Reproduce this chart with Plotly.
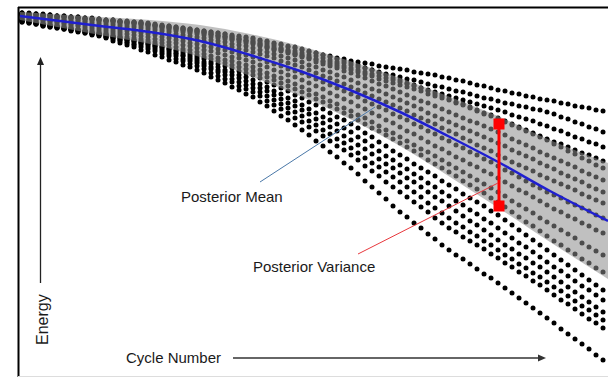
import plotly.graph_objects as go

# Nominal (fresh) energy; each cell is stored as energy fade from it.
E0 = 380

# Sampled cycle numbers shared by every cell
cycles = list(range(0, 582, 7))

# Energy fade per cell at each sampled cycle (cells that age slowest first)
cell_01 = [13, 13, 14, 14, 15, 16, 16, 17, 17, 18, 18, 19, 20, 20, 21, 21, 22, 22, 23,
           24, 25, 26, 27, 28, 29, 30, 31, 32, 33, 34, 36, 37, 38, 39, 41, 42, 44, 45, 47, 48, 50,
           52, 53, 55, 56, 58, 59, 61, 62, 63, 64, 66, 67, 68, 69, 70, 72, 73, 74, 75, 77, 78,
           80, 81, 83, 85, 86, 88, 90, 91, 93, 94, 96, 97, 99, 100, 101, 103, 104, 106, 107, 108, 110, 111]
cell_02 = [13, 14, 14, 15, 15, 16, 16, 17, 17, 18, 19, 19, 20, 20, 21, 22, 22, 23, 24,
           25, 26, 27, 28, 29, 30, 31, 32, 34, 35, 36, 37, 39, 40, 41, 43, 44, 46, 48, 50, 51, 53,
           55, 56, 58, 60, 62, 63, 65, 67, 68, 70, 72, 74, 75, 77, 79, 80, 82, 84, 86, 87, 89,
           91, 92, 94, 96, 98, 99, 101, 103, 104, 106, 107, 109, 110, 112, 114, 117, 119, 122, 124, 127, 129, 132]
cell_03 = [14, 14, 15, 15, 16, 17, 17, 18, 18, 19, 19, 20, 21, 21, 22, 23, 23, 24, 25,
           26, 27, 28, 29, 30, 31, 32, 33, 35, 36, 37, 39, 40, 41, 43, 45, 47, 49, 50, 52, 54, 56,
           58, 60, 62, 64, 66, 68, 70, 72, 74, 76, 79, 81, 83, 85, 87, 89, 91, 94, 96, 98, 100,
           103, 105, 108, 111, 114, 116, 119, 122, 125, 128, 130, 133, 136, 139, 142, 144, 147, 150, 153, 155, 158, 161]
cell_04 = [13, 14, 14, 15, 15, 16, 17, 17, 18, 19, 19, 20, 21, 21, 22, 23, 23, 24, 25,
           26, 27, 28, 29, 30, 31, 32, 33, 34, 36, 37, 38, 39, 41, 42, 44, 46, 48, 49, 51, 53, 55,
           57, 59, 61, 62, 64, 66, 68, 70, 72, 74, 76, 78, 80, 82, 84, 86, 88, 90, 92, 94, 96,
           98, 100, 102, 104, 106, 108, 110, 112, 115, 117, 119, 121, 124, 126, 129, 131, 134, 137, 139, 142, 144, 147]
cell_05 = [14, 15, 15, 16, 16, 17, 17, 18, 18, 19, 19, 20, 21, 21, 22, 22, 23, 23, 24,
           25, 26, 26, 27, 28, 29, 30, 31, 32, 33, 34, 35, 36, 37, 38, 40, 41, 43, 44, 46, 47, 49,
           51, 53, 55, 57, 59, 61, 63, 65, 68, 70, 73, 75, 78, 80, 83, 85, 88, 91, 94, 96, 99,
           102, 104, 107, 110, 113, 115, 118, 121, 124, 127, 131, 134, 137, 140, 144, 147, 151, 154, 158, 161, 165, 168]
cell_06 = [15, 16, 16, 17, 18, 18, 19, 19, 20, 21, 21, 22, 23, 23, 24, 25, 25, 26, 27,
           28, 29, 30, 31, 32, 33, 34, 35, 37, 38, 39, 40, 42, 43, 44, 46, 48, 50, 51, 53, 55, 57,
           59, 62, 64, 66, 68, 71, 73, 76, 78, 81, 84, 86, 89, 92, 95, 98, 101, 103, 106, 109, 112,
           115, 118, 121, 123, 126, 129, 132, 135, 139, 142, 145, 148, 152, 155, 158, 161, 164, 167, 171, 174, 177, 180]
cell_07 = [15, 16, 17, 17, 18, 19, 20, 21, 21, 22, 23, 24, 25, 25, 26, 27, 27, 28, 29,
           30, 31, 32, 34, 35, 36, 37, 38, 40, 41, 42, 44, 45, 46, 48, 50, 52, 54, 56, 58, 60, 62,
           65, 67, 70, 72, 75, 77, 80, 83, 86, 89, 91, 94, 97, 100, 103, 106, 109, 113, 116, 119, 122,
           125, 128, 131, 134, 137, 140, 143, 146, 150, 153, 156, 159, 163, 166, 169, 173, 176, 179, 182, 186, 189, 192]
cell_08 = [16, 17, 18, 19, 20, 21, 21, 22, 23, 24, 25, 26, 27, 28, 29, 29, 30, 31, 32,
           33, 34, 35, 37, 38, 39, 40, 41, 43, 44, 46, 47, 49, 50, 52, 54, 56, 58, 61, 63, 65, 67,
           70, 73, 76, 78, 81, 84, 87, 90, 93, 96, 99, 102, 105, 108, 111, 115, 118, 121, 124, 128, 131,
           134, 138, 141, 145, 148, 151, 155, 158, 162, 165, 168, 171, 175, 178, 181, 184, 187, 190, 194, 197, 200, 203]
cell_09 = [17, 18, 19, 20, 21, 22, 23, 24, 25, 26, 27, 28, 29, 30, 31, 31, 32, 33, 34,
           35, 37, 38, 40, 41, 43, 44, 46, 47, 49, 50, 52, 54, 55, 57, 59, 62, 64, 66, 69, 71, 73,
           76, 79, 82, 85, 88, 91, 94, 97, 101, 104, 107, 110, 114, 117, 120, 124, 127, 131, 134, 138, 141,
           145, 148, 152, 155, 159, 162, 166, 170, 173, 177, 181, 185, 188, 192, 195, 198, 202, 205, 208, 211, 215, 218]
cell_10 = [18, 19, 20, 21, 22, 23, 24, 25, 26, 28, 29, 30, 31, 32, 33, 34, 35, 36, 37,
           39, 40, 42, 43, 45, 46, 48, 50, 51, 53, 55, 57, 58, 60, 62, 65, 67, 70, 72, 75, 77, 80,
           83, 86, 89, 93, 96, 99, 102, 106, 109, 113, 116, 120, 123, 127, 131, 134, 138, 142, 146, 149, 153,
           157, 160, 164, 167, 171, 174, 178, 182, 186, 190, 193, 197, 201, 205, 209, 212, 216, 219, 223, 226, 230, 233]
cell_11 = [19, 20, 21, 23, 24, 25, 26, 27, 29, 30, 31, 32, 33, 34, 35, 37, 38, 39, 40,
           42, 43, 45, 47, 49, 50, 52, 54, 56, 58, 60, 61, 63, 65, 67, 70, 73, 76, 78, 81, 84, 87,
           90, 94, 97, 101, 104, 108, 111, 115, 118, 122, 126, 130, 133, 137, 141, 145, 149, 152, 156, 160, 164,
           168, 172, 176, 180, 184, 188, 192, 196, 201, 205, 209, 213, 218, 222, 226, 230, 234, 238, 243, 247, 251, 255]
cell_12 = [20, 21, 23, 24, 25, 26, 28, 29, 30, 31, 33, 34, 35, 36, 37, 39, 40, 41, 42,
           44, 46, 48, 50, 51, 53, 55, 57, 59, 61, 63, 65, 67, 69, 71, 74, 77, 80, 83, 86, 89, 92,
           95, 99, 102, 106, 109, 113, 116, 120, 124, 128, 131, 135, 139, 143, 147, 151, 155, 160, 164, 168, 172,
           176, 181, 185, 189, 193, 198, 202, 207, 212, 217, 222, 226, 231, 236, 241, 245, 250, 254, 259, 263, 268, 272]
cell_13 = [20, 21, 22, 24, 25, 26, 27, 28, 29, 31, 32, 33, 34, 36, 37, 39, 40, 42, 43,
           45, 47, 49, 51, 53, 55, 57, 59, 62, 64, 66, 68, 71, 73, 75, 78, 82, 85, 88, 91, 95, 98,
           102, 105, 109, 113, 117, 120, 124, 128, 133, 137, 142, 146, 151, 155, 159, 164, 168, 172, 176, 181, 185,
           189, 194, 198, 202, 206, 211, 215, 220, 225, 230, 235, 240, 245, 250, 255, 260, 265, 270, 275, 280, 285, 290]
cell_14 = [21, 22, 23, 24, 26, 27, 28, 29, 30, 31, 33, 34, 35, 37, 38, 40, 41, 43, 44,
           46, 48, 50, 53, 55, 57, 59, 62, 64, 67, 70, 72, 75, 77, 80, 84, 87, 91, 94, 98, 101, 105,
           109, 113, 117, 120, 124, 128, 132, 137, 141, 146, 151, 156, 160, 165, 169, 174, 178, 183, 187, 192, 196,
           201, 205, 210, 214, 219, 223, 228, 233, 238, 243, 247, 252, 257, 262, 267, 271, 276, 281, 286, 290, 295, 300]
cell_15 = [21, 22, 23, 25, 26, 27, 28, 29, 30, 32, 33, 34, 36, 37, 39, 40, 42, 43, 45,
           47, 50, 52, 54, 56, 59, 61, 64, 67, 70, 72, 75, 78, 81, 84, 88, 91, 95, 99, 103, 106, 110,
           114, 119, 123, 127, 131, 136, 140, 145, 149, 154, 159, 164, 168, 173, 178, 182, 187, 192, 197, 201, 206,
           211, 216, 221, 225, 230, 235, 240, 245, 249, 254, 258, 263, 267, 272, 277, 282, 287, 292, 297, 302, 307, 312]
cell_16 = [21, 22, 24, 25, 26, 27, 29, 30, 31, 32, 34, 35, 37, 38, 40, 42, 44, 45, 47,
           49, 52, 54, 56, 59, 61, 63, 66, 69, 72, 75, 79, 82, 85, 88, 92, 96, 100, 104, 108, 112, 116,
           121, 125, 130, 134, 139, 143, 148, 153, 158, 163, 167, 172, 177, 182, 187, 192, 197, 203, 208, 213, 218,
           223, 227, 232, 236, 241, 245, 250, 255, 259, 264, 268, 273, 277, 282, 287, 291, 296, 301, 306, 310, 315, 320]
cell_17 = [22, 23, 24, 26, 27, 28, 29, 30, 31, 33, 34, 35, 37, 39, 41, 43, 45, 47, 49,
           51, 54, 56, 59, 61, 64, 66, 69, 73, 76, 79, 82, 86, 89, 92, 96, 101, 105, 109, 113, 118, 122,
           127, 131, 136, 141, 146, 150, 155, 160, 166, 171, 176, 182, 187, 192, 197, 202, 207, 212, 218, 223, 228,
           232, 237, 241, 245, 249, 254, 258, 263, 267, 272, 276, 281, 285, 290, 295, 300, 304, 309, 314, 319, 323, 328]
cell_18 = [22, 23, 24, 26, 27, 28, 29, 31, 32, 33, 35, 36, 38, 41, 43, 45, 47, 50, 52,
           55, 57, 60, 62, 65, 67, 70, 73, 77, 80, 83, 87, 90, 94, 97, 102, 106, 111, 116, 120, 125, 130,
           135, 141, 146, 152, 157, 163, 168, 174, 181, 187, 193, 199, 206, 212, 217, 223, 228, 234, 239, 245, 250,
           255, 259, 264, 269, 274, 278, 283, 288, 293, 298, 303, 308, 313, 318, 323, 329, 334, 339, 344, 349, 355, 360]

cells = [cell_01, cell_02, cell_03, cell_04, cell_05, cell_06, cell_07, cell_08, cell_09,
         cell_10, cell_11, cell_12, cell_13, cell_14, cell_15, cell_16, cell_17, cell_18]

# Gaussian-process fit: posterior mean fade and posterior standard deviation
gp_cycles = [-2, 78, 128, 178, 228, 278, 328, 378, 428, 478, 528, 586]
gp_mean_fade = [16, 26, 32, 41, 55, 71, 90, 112, 137, 163, 191, 221]
gp_std = [2, 4.5, 6, 8, 10.5, 12.5, 14.5, 17, 20, 23, 25.5, 29]

# Variance marker drawn at one cycle
var_cycle = 477
var_fade = [124, 206]

FONT = "Liberation Sans, Arial, sans-serif"
TEXT = "#1a1a1a"

fig = go.Figure()

for fade in cells:
    fig.add_trace(go.Scatter(
        x=cycles, y=[E0 - f for f in fade], mode="markers",
        marker=dict(size=5, color="black", line=dict(width=0)),
        hoverinfo="skip", showlegend=False))

gp_mean = [E0 - m for m in gp_mean_fade]
gp_upper = [m + 2 * s for m, s in zip(gp_mean, gp_std)]
gp_lower = [m - 2 * s for m, s in zip(gp_mean, gp_std)]

fig.add_trace(go.Scatter(x=gp_cycles, y=gp_upper, mode="lines",
                         line=dict(width=0, shape="spline"), showlegend=False, hoverinfo="skip"))
fig.add_trace(go.Scatter(x=gp_cycles, y=gp_lower, mode="lines", fill="tonexty",
                         fillcolor="rgba(140,140,140,0.55)",
                         line=dict(width=0, shape="spline"), showlegend=False, hoverinfo="skip"))
fig.add_trace(go.Scatter(x=gp_cycles, y=gp_mean, mode="lines",
                         line=dict(color="#1f1fd0", width=2.5, shape="spline"),
                         showlegend=False, hoverinfo="skip"))

fig.add_trace(go.Scatter(x=[var_cycle, var_cycle], y=[E0 - v for v in var_fade],
                         mode="lines+markers",
                         line=dict(color="#ff0000", width=3),
                         marker=dict(symbol="square", size=11, color="#ff0000"),
                         showlegend=False, hoverinfo="skip"))

W, H = 608, 377


def px(x):
    return x / W


def py(y):
    return 1 - y / H


def tri(points):
    """Closed SVG path in paper coordinates from pixel points."""
    parts = [f"{'M' if i == 0 else 'L'} {px(x):.5f},{py(y):.5f}" for i, (x, y) in enumerate(points)]
    return " ".join(parts) + " Z"


shapes = [
    # frame
    dict(type="line", xref="paper", yref="paper", x0=px(18.5), x1=px(18.5), y0=py(7), y1=py(377),
         line=dict(color="black", width=2)),
    dict(type="line", xref="paper", yref="paper", x0=px(18), x1=px(610), y0=py(7.5), y1=py(7.5),
         line=dict(color="black", width=2)),
    dict(type="line", xref="paper", yref="paper", x0=px(18), x1=px(610), y0=py(376.5), y1=py(376.5),
         line=dict(color="#dddddd", width=1)),
    # pointer lines
    dict(type="line", xref="x", yref="y", x0=238, y0=E0 - 182, x1=353, y1=E0 - 107,
         line=dict(color="#4a78a8", width=1)),
    dict(type="line", xref="x", yref="y", x0=336, y0=E0 - 254, x1=476, y1=E0 - 183,
         line=dict(color="#e8383d", width=1)),
    # axis direction arrows
    dict(type="line", xref="paper", yref="paper", x0=px(233), x1=px(539), y0=py(358), y1=py(358),
         line=dict(color="#333333", width=1.3)),
    dict(type="path", xref="paper", yref="paper", path=tri([(546, 358), (538, 354.5), (538, 361.5)]),
         fillcolor="#333333", line=dict(width=0)),
    dict(type="line", xref="paper", yref="paper", x0=px(40.5), x1=px(40.5), y0=py(283), y1=py(65),
         line=dict(color="#222222", width=1.3)),
    dict(type="path", xref="paper", yref="paper", path=tri([(40.5, 57), (37, 65), (44, 65)]),
         fillcolor="#222222", line=dict(width=0)),
]

annotations = [
    dict(text="Posterior Mean", x=210, y=E0 - 196, xref="x", yref="y", showarrow=False,
         xanchor="center", yanchor="middle", font=dict(family=FONT, size=15, color=TEXT)),
    dict(text="Posterior Variance", x=292, y=E0 - 266, xref="x", yref="y", showarrow=False,
         xanchor="center", yanchor="middle", font=dict(family=FONT, size=15, color=TEXT)),
    dict(text="Cycle Number", x=px(174), y=py(357), xref="paper", yref="paper", showarrow=False,
         xanchor="center", yanchor="middle", font=dict(family=FONT, size=15, color=TEXT)),
    dict(text="Energy", x=px(42), y=py(320), xref="paper", yref="paper", showarrow=False,
         xanchor="center", yanchor="middle", textangle=-90,
         font=dict(family=FONT, size=16, color=TEXT)),
]

fig.update_layout(
    width=W, height=H, autosize=False,
    margin=dict(l=0, r=0, t=0, b=0),
    paper_bgcolor="white", plot_bgcolor="white",
    xaxis=dict(range=[-22, 586], visible=False, fixedrange=True),
    yaxis=dict(range=[3, 380], visible=False, fixedrange=True),
    shapes=shapes, annotations=annotations,
)

fig.write_html("out.html")
